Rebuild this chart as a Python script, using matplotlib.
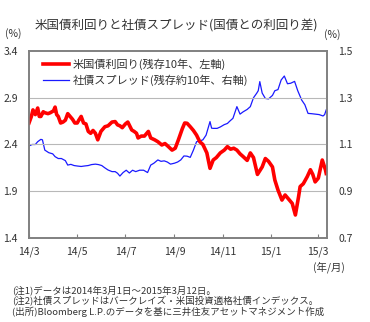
import matplotlib
matplotlib.use("Agg")
import matplotlib.pyplot as plt
import matplotlib.dates as mdates
import pandas as pd

plt.rcParams['font.family'] = ['Noto Sans CJK JP', 'DejaVu Sans']

red_dates = ["2014-03-01","2014-03-04","2014-03-06","2014-03-09","2014-03-12","2014-03-14","2014-03-16","2014-03-19",
    "2014-03-21","2014-03-25","2014-03-28","2014-04-01","2014-04-03","2014-04-05","2014-04-07","2014-04-10",
    "2014-04-13","2014-04-16","2014-04-19","2014-04-22","2014-04-25","2014-04-28","2014-05-01","2014-05-03",
    "2014-05-06","2014-05-09","2014-05-12","2014-05-15","2014-05-18","2014-05-21","2014-05-24","2014-05-27",
    "2014-05-31","2014-06-05","2014-06-09","2014-06-14","2014-06-18","2014-06-21","2014-06-24","2014-06-27",
    "2014-07-01","2014-07-04","2014-07-09","2014-07-12","2014-07-15","2014-07-17","2014-07-21","2014-07-25",
    "2014-07-30","2014-08-02","2014-08-07","2014-08-11","2014-08-16","2014-08-20","2014-08-24","2014-08-29",
    "2014-09-02","2014-09-06","2014-09-11","2014-09-14","2014-09-17","2014-09-21","2014-09-25","2014-09-29",
    "2014-10-03","2014-10-07","2014-10-12","2014-10-16","2014-10-20","2014-10-24","2014-10-29","2014-11-03",
    "2014-11-07","2014-11-11","2014-11-15","2014-11-19","2014-11-23","2014-11-27","2014-12-02","2014-12-06",
    "2014-12-10","2014-12-15","2014-12-18","2014-12-21","2014-12-25","2014-12-29","2015-01-03","2015-01-06",
    "2015-01-10","2015-01-15","2015-01-19","2015-01-23","2015-01-28","2015-02-01","2015-02-05","2015-02-07",
    "2015-02-11","2015-02-16","2015-02-20","2015-02-23","2015-02-26","2015-03-02","2015-03-07","2015-03-11",
    "2015-03-12"]
treasury_yield = [2.63,2.70,2.77,2.72,2.79,2.70,2.70,2.75,
    2.74,2.73,2.74,2.76,2.80,2.72,2.70,2.63,
    2.64,2.66,2.73,2.70,2.67,2.63,2.63,2.66,
    2.70,2.63,2.62,2.54,2.52,2.55,2.52,2.45,
    2.54,2.59,2.60,2.64,2.645,2.61,2.60,2.58,
    2.62,2.64,2.555,2.54,2.52,2.47,2.49,2.49,
    2.54,2.47,2.45,2.43,2.395,2.41,2.38,2.34,
    2.36,2.45,2.57,2.63,2.627,2.59,2.55,2.50,
    2.43,2.40,2.31,2.145,2.234,2.26,2.31,2.34,
    2.377,2.35,2.36,2.34,2.30,2.27,2.23,2.31,
    2.26,2.08,2.12,2.16,2.25,2.22,2.16,2.02,
    1.913,1.806,1.86,1.82,1.77,1.646,1.84,1.95,
    1.98,2.056,2.13,2.08,2.00,2.04,2.234,2.13,
    2.09]

blue_dates = ["2014-03-01","2014-03-05","2014-03-09","2014-03-12","2014-03-16","2014-03-18","2014-03-21","2014-03-26",
    "2014-03-31","2014-04-03","2014-04-07","2014-04-11","2014-04-16","2014-04-19","2014-04-23","2014-04-27",
    "2014-05-01","2014-05-06","2014-05-10","2014-05-15","2014-05-19","2014-05-24","2014-05-28","2014-06-01",
    "2014-06-05","2014-06-09","2014-06-14","2014-06-18","2014-06-21","2014-06-24","2014-06-28","2014-07-02",
    "2014-07-06","2014-07-10","2014-07-14","2014-07-19","2014-07-24","2014-07-29","2014-08-02","2014-08-06",
    "2014-08-11","2014-08-15","2014-08-19","2014-08-23","2014-08-27","2014-09-01","2014-09-05","2014-09-09",
    "2014-09-13","2014-09-17","2014-09-21","2014-09-25","2014-09-29","2014-10-03","2014-10-07","2014-10-11",
    "2014-10-16","2014-10-18","2014-10-20","2014-10-25","2014-10-29","2014-11-03","2014-11-07","2014-11-10",
    "2014-11-14","2014-11-19","2014-11-23","2014-11-27","2014-12-02","2014-12-06","2014-12-10","2014-12-14",
    "2014-12-16","2014-12-18","2014-12-21","2014-12-25","2014-12-29","2015-01-03","2015-01-06","2015-01-10",
    "2015-01-14","2015-01-18","2015-01-22","2015-01-26","2015-01-31","2015-02-04","2015-02-09","2015-02-13",
    "2015-02-17","2015-02-21","2015-02-26","2015-03-03","2015-03-08","2015-03-10","2015-03-12"]
corp_spread = [1.094,1.10,1.10,1.112,1.122,1.12,1.076,1.065,
    1.06,1.048,1.04,1.04,1.031,1.012,1.015,1.01,
    1.008,1.006,1.008,1.01,1.014,1.016,1.014,1.01,
    1.00,0.991,0.984,0.984,0.977,0.965,0.98,0.99,
    0.978,0.99,0.984,0.99,0.99,0.98,1.012,1.02,
    1.034,1.028,1.03,1.025,1.016,1.02,1.025,1.034,
    1.051,1.05,1.045,1.076,1.112,1.115,1.12,1.14,
    1.198,1.17,1.169,1.169,1.175,1.185,1.19,1.20,
    1.212,1.262,1.23,1.24,1.25,1.262,1.30,1.319,
    1.33,1.369,1.32,1.297,1.295,1.31,1.33,1.335,
    1.376,1.393,1.36,1.362,1.37,1.33,1.29,1.27,
    1.233,1.232,1.23,1.228,1.222,1.228,1.248]

tick_dates = ["2014-03-01","2014-05-01","2014-07-01","2014-09-01","2014-11-01","2015-01-01","2015-03-01"]
tick_labels = ["14/3","14/5","14/7","14/9","14/11","15/1","15/3"]
left_ticks = [1.4, 1.9, 2.4, 2.9, 3.4]
right_ticks = [0.7, 0.9, 1.1, 1.3, 1.5]

title = "米国債利回りと社債スプレッド(国債との利回り差)"
label_red = "米国債利回り(残存10年、左軸)"
label_blue = "社債スプレッド(残存約10年、右軸)"
notes = ["(注1)データは2014年3月1日～2015年3月12日。",
         "(注2)社債スプレッドはバークレイズ・米国投資適格社債インデックス。",
         "(出所)Bloomberg L.P.のデータを基に三井住友アセットマネジメント作成"]

fig = plt.figure(figsize=(3.7, 3.22), dpi=100)
ax = fig.add_axes([29/370, 84/322, 298/370, 187/322])
ax2 = ax.twinx()

rd = pd.to_datetime(red_dates)
bd = pd.to_datetime(blue_dates)

l2, = ax2.plot(bd, corp_spread, color='#1a1aff', lw=0.9, label=label_blue)
l1, = ax.plot(rd, treasury_yield, color='#ff0000', lw=2.6, label=label_red)
ax.set_zorder(ax2.get_zorder() + 1)
ax.patch.set_visible(False)

ax.set_xlim(pd.Timestamp("2014-03-01"), pd.Timestamp("2015-03-13"))
ax.set_ylim(1.4, 3.4)
ax2.set_ylim(0.7, 1.5)
ax.set_yticks(left_ticks)
ax.set_yticklabels([f"{v:.1f}" for v in left_ticks])
ax2.set_yticks(right_ticks)
ax2.set_yticklabels([f"{v:.1f}" for v in right_ticks])
ax.set_xticks(pd.to_datetime(tick_dates))
ax.set_xticklabels(tick_labels)

for v in left_ticks[1:-1]:
    ax.axhline(v, color='#b8b8b8', lw=0.8, zorder=0)

ax.tick_params(axis='x', direction='in', length=3, color='#808080', labelsize=7.5, pad=6, labelcolor='#333333')
ax.tick_params(axis='y', length=0, labelsize=7.5, pad=8, labelcolor='#333333')
ax2.tick_params(axis='y', length=0, labelsize=7.5, pad=8, labelcolor='#333333')
for a in (ax, ax2):
    for s in a.spines.values():
        s.set_color('#808080')
        s.set_linewidth(1.2)

leg = ax.legend(handles=[l1, l2], loc='upper left', bbox_to_anchor=(0.02, 1.0), frameon=False,
                fontsize=8, handlelength=2.4, handletextpad=0.3, labelspacing=0.35, borderaxespad=0.3)
for t in leg.get_texts():
    t.set_color('#333333')

fig.text(35/370, 1 - 26/322, title, fontsize=9, va='center', ha='left', color='#333333')
fig.text(5/370, 1 - 34/322, "(%)", fontsize=7.5, va='center', ha='left', color='#333333')
fig.text(324/370, 1 - 35/322, "(%)", fontsize=7.5, va='center', ha='left', color='#333333')
fig.text(345/370, 1 - 267/322, "(年/月)", fontsize=7.5, va='center', ha='right', color='#333333')
for i, n in enumerate(notes):
    fig.text(12/370, 1 - (290 + 11 * i)/322, n, fontsize=6.8, va='center', ha='left', color='#333333')

fig.savefig("out.png", dpi=100)
